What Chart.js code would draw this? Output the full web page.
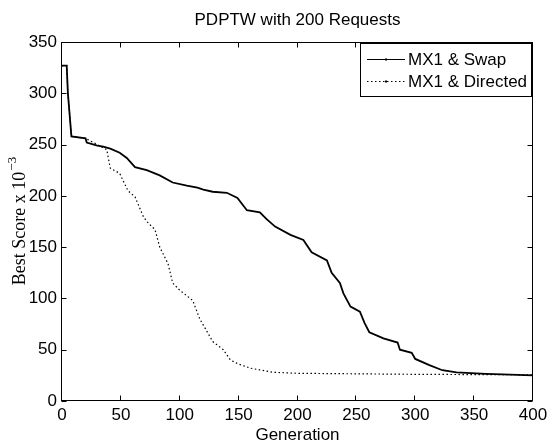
<!DOCTYPE html>
<html>
<head>
<meta charset="utf-8">
<script src="https://cdn.jsdelivr.net/npm/chart.js@4.4.1/dist/chart.umd.min.js"></script>
<style>
    html, body { margin: 0; padding: 0; background: #fff; }
    canvas { display: block; }
</style>
</head>
<body>
<canvas id="scoreChart" width="547" height="443"></canvas>
<script>
// Series (generation -> best score x 10^-3)
const swapGen   = [0, 4, 5, 8, 20, 21, 30, 35, 41, 49, 55, 62, 72, 83, 94, 106, 115, 120, 128, 140, 149, 157, 168, 174, 181, 194, 205, 212, 225, 229, 236, 239, 245, 253, 257, 261, 273, 285, 287, 297, 300, 312, 323, 335, 360, 374, 400];
const swapScore = [327, 327, 300, 258, 256, 252, 249, 248, 246, 242, 237, 228, 225, 220, 213, 210, 208, 206, 204, 203, 198, 186, 184, 177, 170, 162, 157, 145, 137, 125, 115, 105, 92, 87, 76, 67, 61, 57, 50, 47, 41, 35, 30, 28, 26.5, 26, 25];

const directedGen   = [0, 4, 5, 8, 20, 30, 38, 41, 49, 51, 56, 62, 69, 72, 79, 83, 90, 94, 100, 111, 117, 128, 137, 143, 150, 160, 179, 200, 250, 300, 400];
const directedScore = [327, 327, 300, 258, 256, 250, 245, 227, 222, 217, 205, 199, 180, 175, 167, 150, 134, 115, 108, 98, 80, 58, 50, 40, 36, 32, 28, 27, 26.5, 26, 25.5];

const seriesLabels = ['MX1 & Swap', 'MX1 & Directed'];
const xTickStep = 50;
const yTickStep = 50;

const SANS = '"Liberation Sans", Arial, sans-serif';
const SERIF = '"Liberation Serif", "DejaVu Serif", serif';

function toPoints(xs, ys) {
    return xs.map((x, i) => ({ x: x, y: ys[i] }));
}

// Box, inward ticks, title, axis titles and legend in MATLAB style
const matlabFrame = {
    id: 'matlabFrame',
    afterDraw(chart) {
        const c = chart.ctx;
        const a = chart.chartArea;
        const xs = chart.scales.x;
        const ys = chart.scales.y;
        const L = Math.round(a.left) - 0.5, R = Math.round(a.right) - 0.5;
        const T = Math.round(a.top) + 0.5, B = Math.round(a.bottom) - 0.5;
        const tick = 5;

        c.save();
        c.strokeStyle = '#000';
        c.lineWidth = 1;
        c.strokeRect(L, T, R - L, B - T);

        c.beginPath();
        xs.ticks.forEach(t => {
            const px = Math.round(xs.getPixelForValue(t.value)) - 0.5;
            c.moveTo(px, B); c.lineTo(px, B - tick);
            c.moveTo(px, T); c.lineTo(px, T + tick);
        });
        ys.ticks.forEach(t => {
            const py = Math.round(ys.getPixelForValue(t.value)) + 0.5;
            c.moveTo(L, py); c.lineTo(L + tick, py);
            c.moveTo(R, py); c.lineTo(R - tick, py);
        });
        c.stroke();

        // title
        c.fillStyle = '#000';
        c.textAlign = 'center';
        c.textBaseline = 'middle';
        c.font = '17px ' + SANS;
        c.fillText('PDPTW with 200 Requests', (a.left + a.right) / 2, 20);

        // x title
        c.fillText('Generation', (a.left + a.right) / 2, 435);

        // y title with superscript
        c.translate(20, (a.top + a.bottom) / 2);
        c.rotate(-Math.PI / 2);
        c.font = '18px ' + SERIF;
        const main = 'Best Score x 10';
        c.font = '18px ' + SERIF;
        const wMain = c.measureText(main).width;
        c.font = '13px ' + SERIF;
        const sup = '\u22123';
        const wSup = c.measureText(sup).width;
        const start = -(wMain + wSup) / 2;
        c.textAlign = 'left';
        c.font = '18px ' + SERIF;
        c.fillText(main, start, 0);
        c.font = '13px ' + SERIF;
        c.fillText(sup, start + wMain + 1, -7);
        c.restore();

        // legend
        c.save();
        const lx = 360.5, ly = 43.5, lw = 171, lh = 53;
        c.fillStyle = '#fff';
        c.fillRect(lx, ly, lw, lh);
        c.strokeStyle = '#000';
        c.lineWidth = 1;
        c.strokeRect(lx, ly, lw, lh);
        const rows = [59, 81];
        chart.data.datasets.forEach((ds, i) => {
            const y = rows[i] + 0.5;
            c.strokeStyle = ds.borderColor;
            c.lineWidth = i === 0 ? 1.2 : 1;
            c.setLineDash(ds.borderDash || []);
            c.beginPath();
            c.moveTo(367, y);
            c.lineTo(405, y);
            c.stroke();
            c.setLineDash([]);
            c.fillStyle = '#000';
            c.fillRect(385, y - 1, 2, 2);
            c.font = '17px ' + SANS;
            c.textAlign = 'left';
            c.textBaseline = 'middle';
            c.fillText(ds.label, 408, rows[i] + 1);
        });
        c.restore();
    }
};

const ctx = document.getElementById('scoreChart');
new Chart(ctx, {
    type: 'line',
    data: {
        datasets: [{
            label: seriesLabels[0],
            data: toPoints(swapGen, swapScore),
            borderColor: '#000',
            borderWidth: 1.8,
            pointRadius: 0,
            tension: 0,
            fill: false
        }, {
            label: seriesLabels[1],
            data: toPoints(directedGen, directedScore),
            borderColor: '#000',
            borderWidth: 1.2,
            borderDash: [1.5, 2.5],
            pointRadius: 0,
            tension: 0,
            fill: false
        }]
    },
    options: {
        responsive: false,
        devicePixelRatio: 1,
        animation: false,
        layout: { padding: { top: 42, right: 14, left: 0, bottom: 0 } },
        plugins: {
            legend: { display: false },
            title: { display: false },
            tooltip: { enabled: false }
        },
        scales: {
            x: {
                type: 'linear',
                min: 0,
                max: 400,
                grid: { display: false, drawTicks: false },
                border: { display: false },
                ticks: {
                    stepSize: xTickStep,
                    padding: 4,
                    color: '#000',
                    maxRotation: 0,
                    font: { family: SANS, size: 17 }
                },
                afterFit(scale) {
                    scale.height = 42;
                    scale.paddingLeft = 0;
                    scale.paddingRight = 0;
                }
            },
            y: {
                type: 'linear',
                min: 0,
                max: 350,
                grid: { display: false, drawTicks: false },
                border: { display: false },
                ticks: {
                    stepSize: yTickStep,
                    padding: 5,
                    color: '#000',
                    font: { family: SANS, size: 17 }
                },
                afterFit(scale) {
                    scale.width = 62;
                    scale.paddingTop = 0;
                    scale.paddingBottom = 0;
                }
            }
        }
    },
    plugins: [matlabFrame]
});
</script>
</body>
</html>
